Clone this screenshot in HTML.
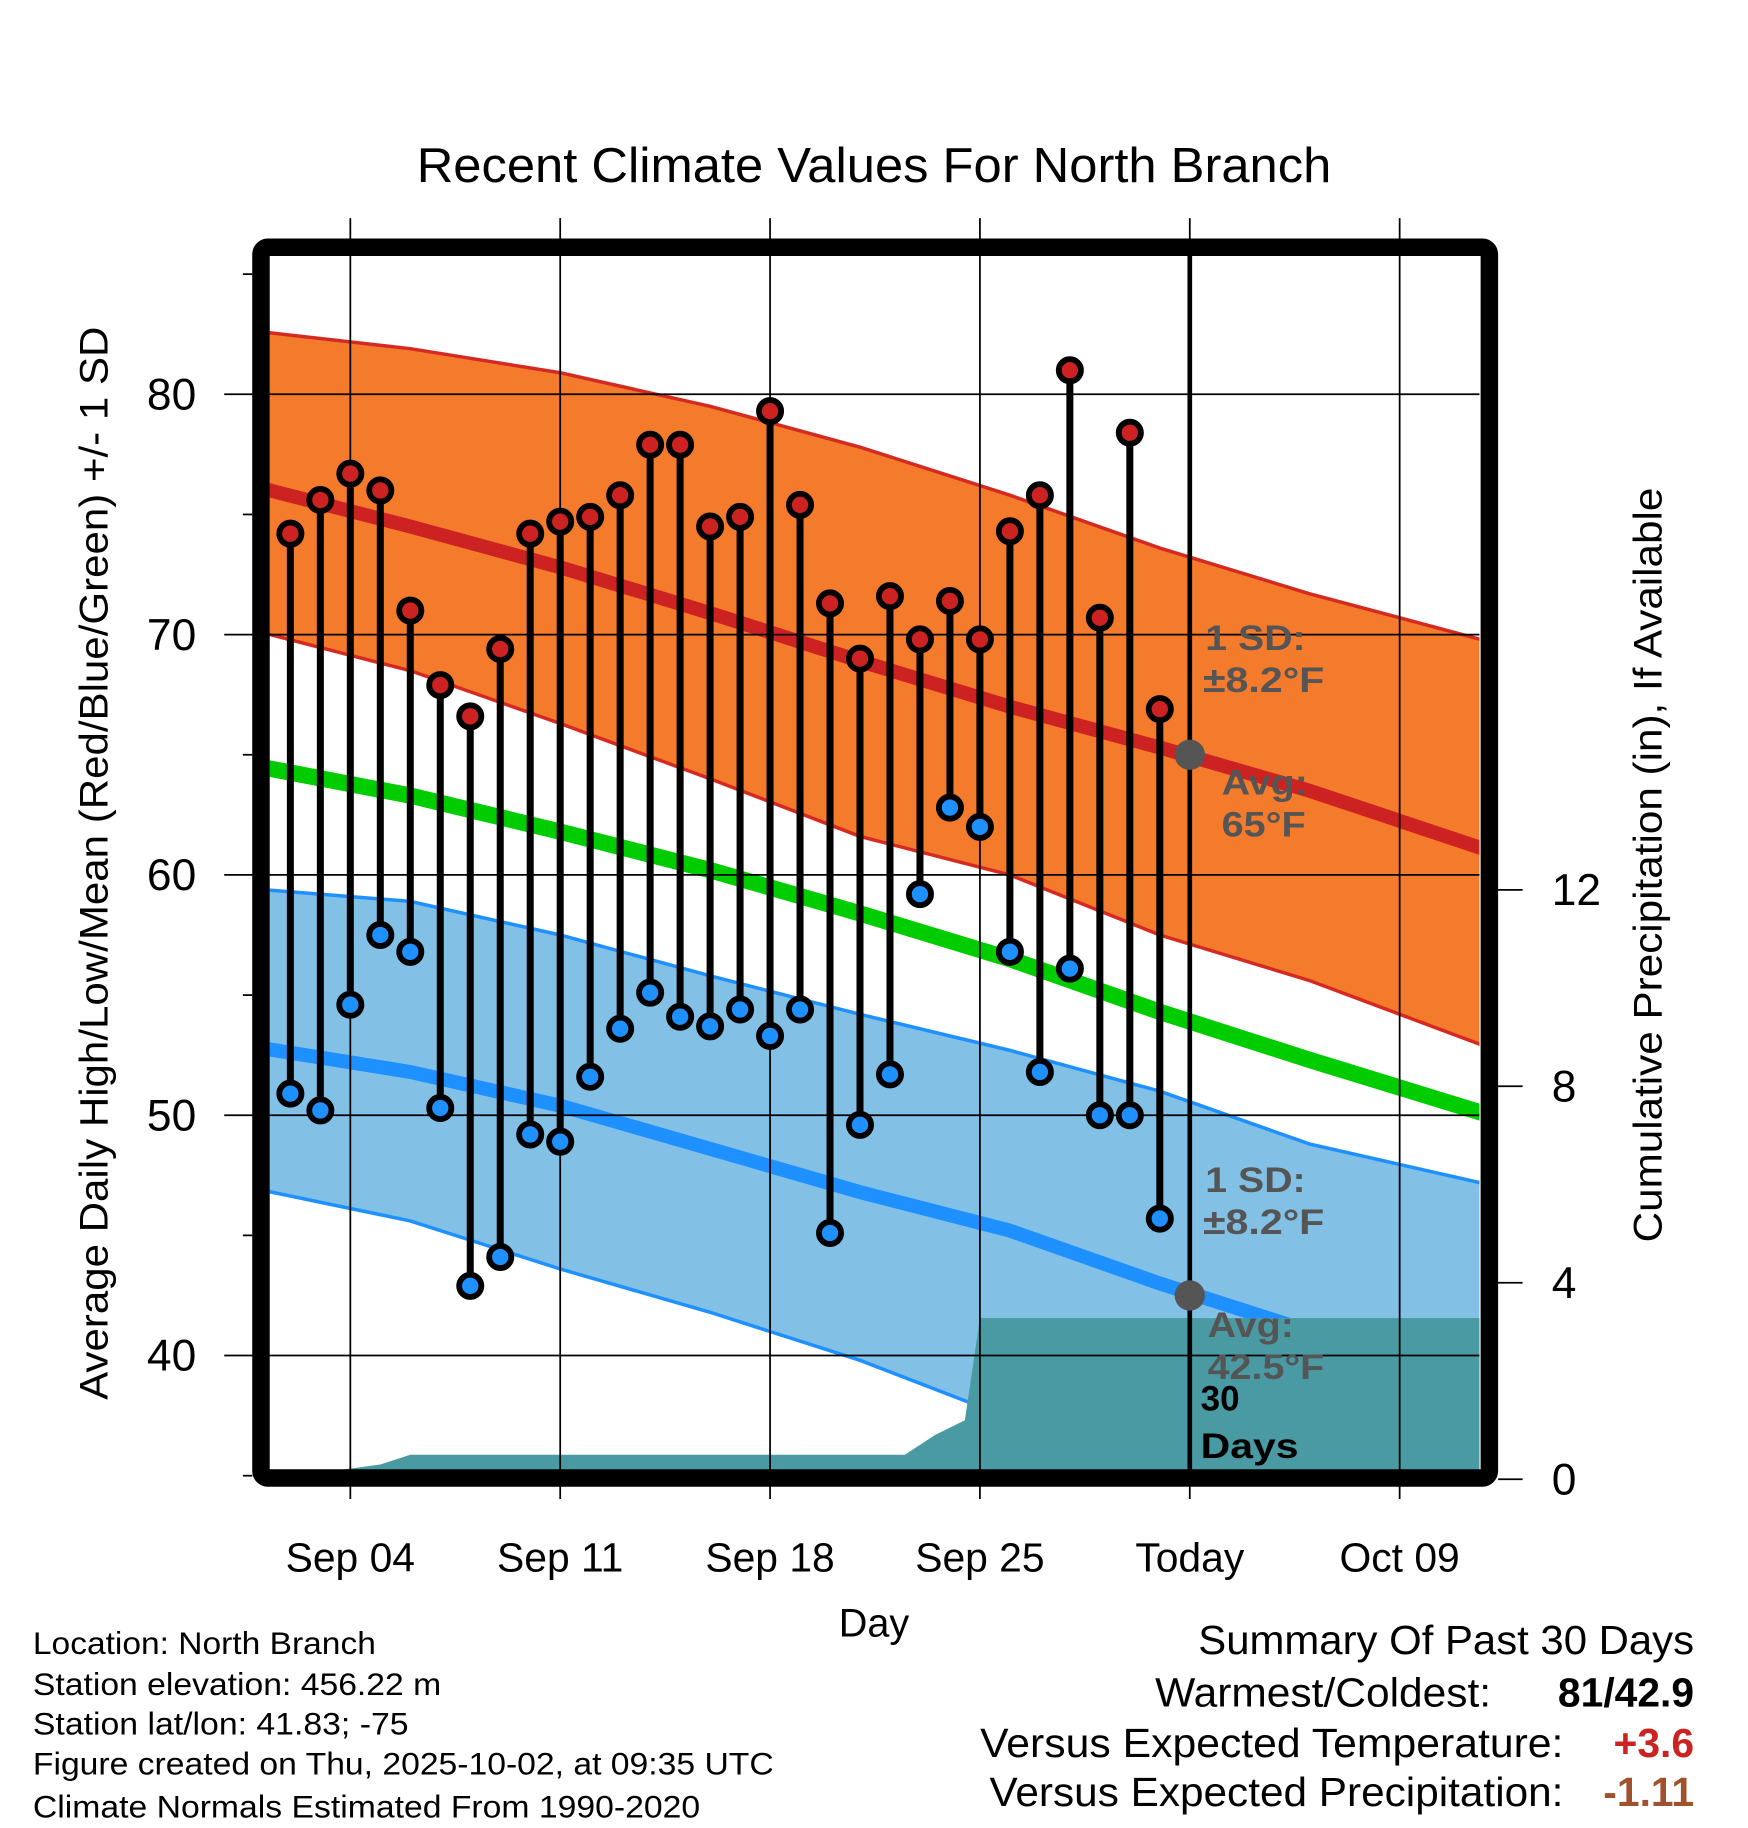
<!DOCTYPE html>
<html><head><meta charset="utf-8"><style>
html,body{margin:0;padding:0;background:#fff;}
svg{display:block;font-family:"Liberation Sans",Arial,sans-serif;}
</style></head><body>
<svg id="chart" width="1748" height="1828" viewBox="0 0 1498 1567" xmlns="http://www.w3.org/2000/svg">
<defs><clipPath id="plotclip"><rect x="231" y="218" width="1037" height="1042"/></clipPath></defs>
<rect x="0" y="0" width="1498" height="1567" fill="#fff"/>
<text x="357" y="156" font-size="42" textLength="784" lengthAdjust="spacingAndGlyphs">Recent Climate Values For North Branch</text>
<g id="plot" clip-path="url(#plotclip)"></g>
<g id="over"></g>
<rect x="223.5" y="212" width="1053" height="1055" rx="6" fill="none" stroke="#000" stroke-width="15"/>
<g id="axes"></g>
<text x="749" y="1403" font-size="34" text-anchor="middle">Day</text>
<text transform="translate(92,1200) rotate(-90)" font-size="34" textLength="920" lengthAdjust="spacingAndGlyphs">Average Daily High/Low/Mean (Red/Blue/Green) +/- 1 SD</text>
<text transform="translate(1424,1065) rotate(-90)" font-size="34" textLength="647" lengthAdjust="spacingAndGlyphs">Cumulative Precipitation (in), If Available</text>
<g font-size="27" lengthAdjust="spacingAndGlyphs">
<text x="28" y="1418" textLength="294" lengthAdjust="spacingAndGlyphs">Location: North Branch</text>
<text x="28" y="1453" textLength="350" lengthAdjust="spacingAndGlyphs">Station elevation: 456.22 m</text>
<text x="28" y="1487" textLength="322" lengthAdjust="spacingAndGlyphs">Station lat/lon: 41.83; -75</text>
<text x="28" y="1521" textLength="635" lengthAdjust="spacingAndGlyphs">Figure created on Thu, 2025-10-02, at 09:35 UTC</text>
<text x="28" y="1558" textLength="572" lengthAdjust="spacingAndGlyphs">Climate Normals Estimated From 1990-2020</text>
</g>
<g font-size="35">
<text x="1027" y="1418" textLength="425" lengthAdjust="spacingAndGlyphs">Summary Of Past 30 Days</text>
<text x="990" y="1463" textLength="288" lengthAdjust="spacingAndGlyphs">Warmest/Coldest:</text>
<text x="1452" y="1463" text-anchor="end" font-weight="bold">81/42.9</text>
<text x="840" y="1506" textLength="500" lengthAdjust="spacingAndGlyphs">Versus Expected Temperature:</text>
<text x="1452" y="1506" text-anchor="end" font-weight="bold" fill="#cc2222">+3.6</text>
<text x="848" y="1548" textLength="492" lengthAdjust="spacingAndGlyphs">Versus Expected Precipitation:</text>
<text x="1452" y="1548" text-anchor="end" font-weight="bold" fill="#a0522d">-1.11</text>
</g>
</svg>
<script>
// days from Sep 1 (0) ; observations Sep 2 .. Oct 1
const obsDays = [1,2,3,4,5,6,7,8,9,10,11,12,13,14,15,16,17,18,19,20,21,22,23,24,25,26,27,28,29,30];
const highs = [74.2,75.6,76.7,76.0,71.0,67.9,66.6,69.4,74.2,74.7,74.9,75.8,77.9,77.9,74.5,74.9,79.3,75.4,71.3,69.0,71.6,69.8,71.4,69.8,74.3,75.8,81.0,70.7,78.4,66.9];
const lows = [50.9,50.2,54.6,57.5,56.8,50.3,42.9,44.1,49.2,48.9,51.6,53.6,55.1,54.1,53.7,54.4,53.3,54.4,45.1,49.6,51.7,59.2,62.8,62.0,56.8,51.8,56.1,50.0,50.0,45.7];
const normDays = [0,5,10,15,20,25,30,35,41];
const highUpper = [82.6,81.9,80.9,79.5,77.8,75.8,73.6,71.7,69.7];
const highMean = [76.1,74.5,72.8,70.9,68.9,67.0,65.3,63.5,61.0];
const highLower = [70.1,68.5,66.3,64.0,61.6,60.0,57.5,55.6,52.8];
const meanNorm = [64.5,63.3,61.8,60.2,58.4,56.5,54.3,52.3,50.0];
const lowUpper = [59.4,58.9,57.5,55.8,54.2,52.7,51.0,48.8,47.1];
const lowMean = [52.8,51.8,50.4,48.6,46.8,45.2,43.0,41.0,39.8];
const lowLower = [46.9,45.6,43.6,41.8,39.8,37.4,35.0,33.0,31.0];
const precipDays = [0,2.7,2.8,4.0,5.0,21.5,22.5,23.5,24.0,41];
const precipVals = [0,0,0.2,0.3,0.5,0.5,0.9,1.2,3.28,3.28];
const xTickDays = [3,10,17,24,31,38];
const xTickLabels = ["Sep 04","Sep 11","Sep 18","Sep 25","Today","Oct 09"];
const yTicks = [40,50,60,70,80];
const yMinor = [35,45,55,65,75,85];
const y2Ticks = [0,4,8,12];
const todayDay = 31, todayHigh = 65, todayLow = 42.5;

const NS="http://www.w3.org/2000/svg";
const X = d => 223 + d*25.7;
const Y = t => 338 + (80 - t)*20.6;
const Y2 = p => 1268 - p*42.1;
function mk(tag, attrs, parent){const e=document.createElementNS(NS,tag);for(const k in attrs)e.setAttribute(k,attrs[k]);parent.appendChild(e);return e;}
const plot=document.getElementById('plot'), over=document.getElementById('over'), axes=document.getElementById('axes');
function pts(days,vals,fy){return days.map((d,i)=>X(d).toFixed(1)+','+fy(vals[i]).toFixed(1));}
function band(up,lo,fill,edge,name){
  const p=pts(normDays,up,Y).concat(pts(normDays,lo,Y).reverse());
  const e=mk('polygon',{points:p.join(' '),fill:fill},plot);
  
  
  [up,lo].forEach(a=>{const l=mk('polyline',{points:pts(normDays,a,Y).join(' '),fill:'none',stroke:edge,'stroke-width':3},plot);
  
  });
}
band(highUpper,highLower,'#f47a2c','#d42a22','high-sd-band');
band(lowUpper,lowLower,'#82c0e6','#1e90ff','low-sd-band');
function line(a,col,w,name){const l=mk('polyline',{points:pts(normDays,a,Y).join(' '),fill:'none',stroke:col,'stroke-width':w},plot);
  
  }
line(highMean,'#cc2222',12,'normal-high-line');
line(meanNorm,'#00cc00',14,'normal-mean-line');
line(lowMean,'#1e90ff',12,'normal-low-line');
{const p=pts(precipDays,precipVals,Y2);p.push(X(41)+','+1300,X(0)+','+1300);
 const e=mk('polygon',{points:p.join(' '),fill:'#4a9aa3'},plot);
 
 }
xTickDays.forEach(d=>{const l=mk('line',{x1:X(d),x2:X(d),y1:187,y2:1285,stroke:'#000','stroke-width':1.5},over);
  
  });
yTicks.forEach(t=>{const l=mk('line',{x1:192,x2:1268,y1:Y(t),y2:Y(t),stroke:'#000','stroke-width':1.5},over);
  
  });
{const l=mk('line',{x1:X(todayDay),x2:X(todayDay),y1:218,y2:1260,stroke:'#000','stroke-width':4},over);
 
 }
obsDays.forEach((d,i)=>{
  const s=mk('line',{x1:X(d),x2:X(d),y1:Y(highs[i]),y2:Y(lows[i]),stroke:'#000','stroke-width':6},over);
  
  
});
obsDays.forEach((d,i)=>{
  const h=mk('circle',{cx:X(d),cy:Y(highs[i]),r:9.5,fill:'#cc2222',stroke:'#000','stroke-width':5},over);
  
  
  const l=mk('circle',{cx:X(d),cy:Y(lows[i]),r:9.5,fill:'#1e90ff',stroke:'#000','stroke-width':5},over);
  
  
});
[[todayHigh,'today-normal-high-dot'],[todayLow,'today-normal-low-dot']].forEach(([v,n])=>{
  const c=mk('circle',{cx:X(todayDay),cy:Y(v),r:13,fill:'#555'},over);
  
  
});
function lbl(x,y,txt,col,name,len){const t=mk('text',{x:x,y:y,'font-size':30,'font-weight':'bold',fill:col},over);t.textContent=txt;
  if(len){t.setAttribute('textLength',len);t.setAttribute('lengthAdjust','spacingAndGlyphs');}
  
  }
lbl(1033,557,'1 SD:','#555','high-sd-label',86);
lbl(1031,593,'±8.2°F','#555','high-sd-value',104);
lbl(1047,681,'Avg:','#555','high-avg-label',74);
lbl(1047,717,'65°F','#555','high-avg-value',72);
lbl(1033,1022,'1 SD:','#555','low-sd-label',86);
lbl(1031,1058,'±8.2°F','#555','low-sd-value',104);
lbl(1035,1146,'Avg:','#555','low-avg-label',74);
lbl(1035,1182,'42.5°F','#555','low-avg-value',100);
lbl(1029,1209,'30','#000','days-count-label');
lbl(1029,1250,'Days','#000','days-word-label',84);
yTicks.forEach(t=>{const l=mk('text',{x:168,y:Y(t)+13,'font-size':38,'text-anchor':'end'},axes);l.textContent=t;
  
  });
yMinor.forEach(t=>{const l=mk('line',{x1:208,x2:216,y1:Y(t),y2:Y(t),stroke:'#000','stroke-width':1.5},axes);
  
  });
y2Ticks.forEach(p=>{const l=mk('line',{x1:1284,x2:1305,y1:Y2(p),y2:Y2(p),stroke:'#000','stroke-width':1.5},axes);
  
  
  const t=mk('text',{x:1330,y:Y2(p)+13,'font-size':38},axes);t.textContent=p;
  
  });
xTickDays.forEach((d,i)=>{const t=mk('text',{x:X(d),y:1347,'font-size':35,'text-anchor':'middle'},axes);t.textContent=xTickLabels[i];
  
  });
</script>
</body></html>
